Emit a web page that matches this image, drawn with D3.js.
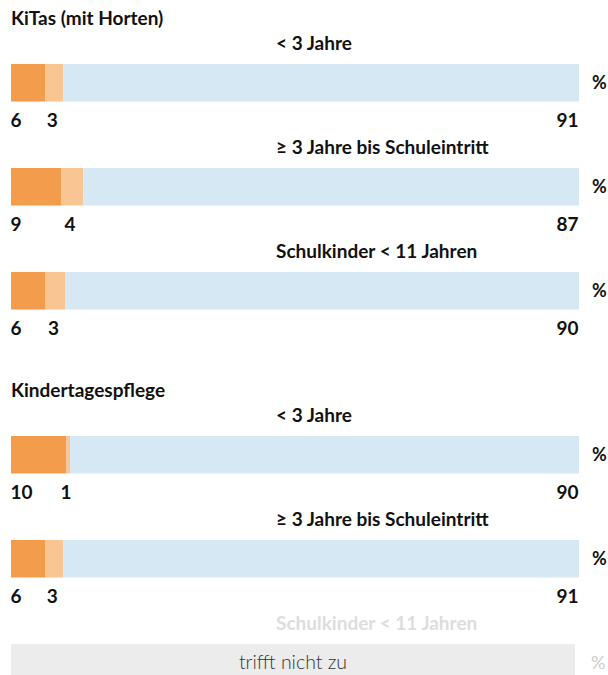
<!DOCTYPE html>
<html>
<head>
<meta charset="utf-8">
<script src="https://cdn.jsdelivr.net/npm/d3@7"></script>
<style>
  html, body { margin: 0; padding: 0; background: #fff; }
  svg { display: block; font-family: Lato, "Open Sans", sans-serif; }
</style>
</head>
<body>
<script>
// ---- data ----
const sections = ["KiTas (mit Horten)", "Kindertagespflege"];
const ageGroups = ["< 3 Jahre", "≥ 3 Jahre bis Schuleintritt", "Schulkinder < 11 Jahren"];
const rowSection = [0, 0, 0, 1, 1, 1];
const rowAge = [0, 1, 2, 0, 1, 2];
// segment values (share of bar)
const valDark  = [6.0, 8.8, 6.1, 9.7, 6.0, null];
const valLight = [3.2, 3.9, 3.5, 0.7, 3.2, null];
const valBlue  = [90.8, 87.3, 90.4, 89.6, 90.8, null];
// printed labels
const labDark  = ["6", "9", "6", "10", "6", null];
const labLight = ["3", "4", "3", "1", "3", null];
const labBlue  = ["91", "87", "90", "90", "91", null];
const notApplicable = "trifft nicht zu";
const unit = "%";

// ---- layout ----
const W = 608, H = 675;
const svg = d3.select("body").append("svg").attr("width", W).attr("height", H);
const x = d3.scaleLinear().domain([0, 100]).range([11, 579]);
const barH = 37.5;
const fs = 19;
const rowTop = i => 64 + 104 * i + 60 * rowSection[i];
const colors = { dark: "#f39c4b", light: "#f9c592", blue: "#d6e8f4", na: "#ececec" };
const textCol = "#111111";

// section titles
sections.forEach((s, si) => {
  const first = rowSection.indexOf(si);
  svg.append("text")
    .attr("x", 11).attr("y", rowTop(first) - 39.5)
    .attr("font-size", fs).attr("font-weight", 700).attr("fill", textCol)
    .text(s);
});

rowSection.forEach((sec, i) => {
  const top = rowTop(i);
  const na = valDark[i] == null;
  const g = svg.append("g");
  // subtitle
  g.append("text")
    .attr("x", 276).attr("y", top - 14.5)
    .attr("font-size", fs).attr("font-weight", 700)
    .attr("fill", na ? "#dddddd" : textCol)
    .text(ageGroups[rowAge[i]]);
  if (na) {
    const xEnd = x(100) - 4;
    g.append("rect").attr("x", x(0)).attr("y", top)
      .attr("width", xEnd - x(0)).attr("height", barH).attr("fill", colors.na);
    g.append("text")
      .attr("x", (x(0) + xEnd) / 2).attr("y", top + 25)
      .attr("text-anchor", "middle").attr("font-size", 19.5).attr("font-weight", 300)
      .attr("fill", "#333")
      .text(notApplicable);
    g.append("text").attr("x", 591).attr("y", top + 25)
      .attr("font-size", 18).attr("fill", "#cccccc").text(unit);
    return;
  }
  const segs = [
    { v: valDark[i], c: colors.dark, l: labDark[i] },
    { v: valLight[i], c: colors.light, l: labLight[i] },
    { v: valBlue[i], c: colors.blue, l: labBlue[i] }
  ];
  let acc = 0;
  segs.forEach(s => { s.x0 = acc; acc += s.v; s.x1 = acc; });
  segs[2].x1 = 100;
  g.selectAll("rect").data(segs).join("rect")
    .attr("x", d => x(d.x0)).attr("y", top)
    .attr("width", d => x(d.x1) - x(d.x0)).attr("height", barH)
    .attr("fill", d => d.c);
  // labels under the bar
  const ly = top + barH + 25.5;
  g.append("text").attr("x", x(segs[0].x0) - 0.5).attr("y", ly)
    .attr("font-size", fs).attr("font-weight", 700).attr("fill", textCol).text(segs[0].l);
  g.append("text").attr("x", (x(segs[1].x0) + x(segs[1].x1)) / 2 - 2).attr("y", ly)
    .attr("text-anchor", "middle")
    .attr("font-size", fs).attr("font-weight", 700).attr("fill", textCol).text(segs[1].l);
  g.append("text").attr("x", x(100) - 0.5).attr("y", ly).attr("text-anchor", "end")
    .attr("font-size", fs).attr("font-weight", 700).attr("fill", textCol).text(segs[2].l);
  // unit
  g.append("text").attr("x", 592).attr("y", top + 25)
    .attr("font-size", 18).attr("font-weight", 700).attr("fill", textCol).text(unit);
});
</script>
</body>
</html>
